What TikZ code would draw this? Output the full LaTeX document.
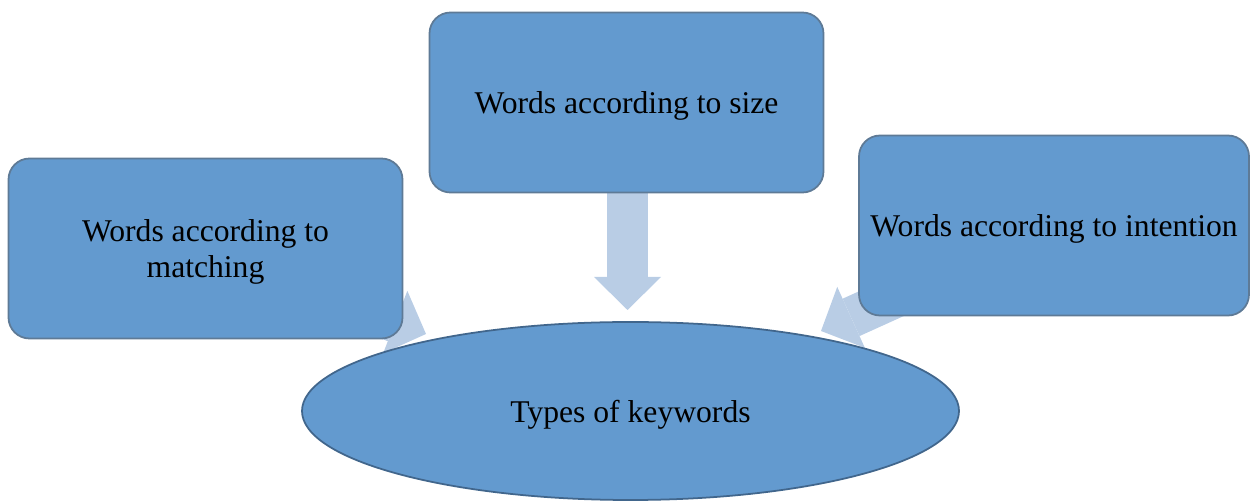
\documentclass[tikz,border=0pt]{standalone}
\usepackage{fontspec}
\setmainfont{Liberation Serif}
\usetikzlibrary{arrows.meta, shapes.geometric}
\definecolor{BoxBlue}{HTML}{639ACF}
\definecolor{EdgeGray}{HTML}{5E7A96}
\definecolor{EdgeBlue}{HTML}{41668C}
\definecolor{ArrowBlue}{HTML}{B9CDE5}
\tikzset{
  catbox/.style={draw=EdgeGray, line width=1pt, fill=BoxBlue, rounded corners=0.42cm,
                 align=center, minimum width=7.88cm, minimum height=3.6cm,
                 inner sep=2pt, text depth=0pt,
                 font=\fontsize{18}{20}\selectfont, text=black},
  typeoval/.style={ellipse, draw=EdgeBlue, line width=1pt, fill=BoxBlue,
                   minimum width=13.14cm, minimum height=3.56cm, inner sep=0pt,
                   text depth=0pt, font=\fontsize{18}{20}\selectfont, text=black},
  blockarrow/.style={draw=ArrowBlue, line width=0.82cm,
                     -{Triangle[length=0.66cm, width=1.34cm, line width=0pt]}},
}

\begin{document}
\begin{tikzpicture}
    \useasboundingbox (0,0) rectangle (25,10.02);
    % arrows first, so the boxes and the oval sit over their tails
    \coordinate (tipM) at (12.55, 3.82);
    \coordinate (tipL) at (8.52, 3.34);
    \coordinate (tipR) at (16.42, 3.40);
    \node[catbox, draw=none, fill=none] (size) at (12.53, 7.97) {};
    \node[catbox, draw=none, fill=none] (matching) at (4.11, 5.05) {};
    \node[catbox, draw=none, fill=none, minimum width=7.8cm] (intention) at (21.08, 5.51) {};
    \draw[blockarrow] (size.south -| tipM) -- (tipM);
    \draw[blockarrow] (matching.center) -- (tipL);
    \draw[blockarrow] (intention.center) -- (tipR);
    \node[catbox] at (size) {Words according to size};
    \node[catbox] at (matching) {Words according to\\matching};
    \node[catbox, minimum width=7.8cm] at (intention) {Words according to intention};
    \node[typeoval] (keywords) at (12.61, 1.80) {Types of keywords};
  \end{tikzpicture}
\end{document}
